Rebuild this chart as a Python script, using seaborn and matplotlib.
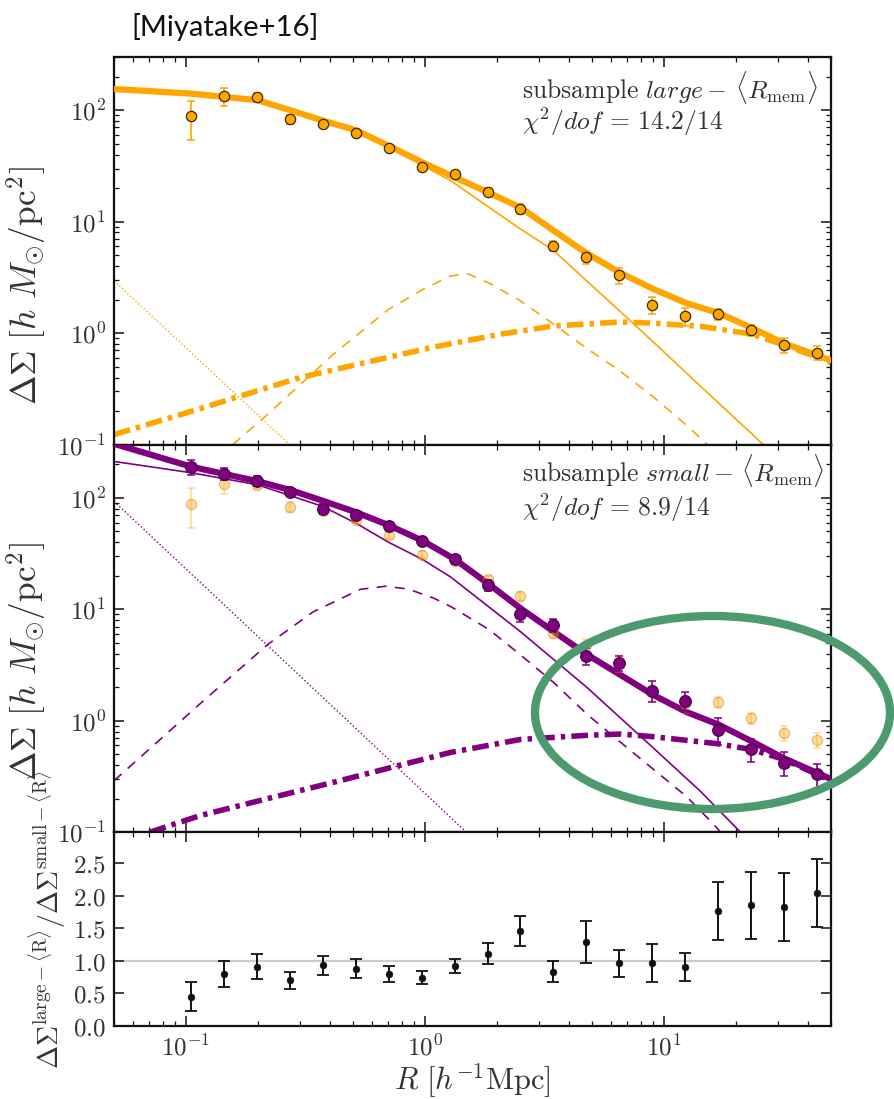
import numpy as np
import matplotlib
matplotlib.use("Agg")
import matplotlib.pyplot as plt
import seaborn as sns
from matplotlib.ticker import LogLocator, FuncFormatter, NullFormatter, FixedLocator
from matplotlib.patches import Ellipse

# ---- measured lensing profiles (R in h^-1 Mpc, Delta Sigma in h M_sun / pc^2) ----
R_bins = [0.105, 0.144, 0.198, 0.272, 0.373, 0.513, 0.705, 0.968, 1.33, 1.83,
          2.51, 3.44, 4.73, 6.50, 8.93, 12.3, 16.8, 23.1, 31.8, 43.6]

ds_large = [88, 134, 131, 83, 76, 63, 46, 31, 27, 18.6,
            13.1, 6.1, 4.8, 3.3, 1.8, 1.42, 1.48, 1.06, 0.78, 0.67]
ds_large_err = [34, 25, 12, 8, 5, 4, 3, 2, 1.6, 1.4,
                1.3, 0.6, 0.65, 0.55, 0.3, 0.25, 0.17, 0.12, 0.12, 0.1]

ds_small = [190, 164, 142, 113, 80, 70, 56, 41, 28, 16.4,
            9.0, 7.2, 3.8, 3.3, 1.86, 1.51, 0.83, 0.56, 0.42, 0.33]
ds_small_err = [30, 20, 15, 10, 8, 6, 4, 3, 2, 1.8,
                1.3, 1.0, 0.65, 0.5, 0.4, 0.3, 0.22, 0.13, 0.1, 0.08]

ratio = [0.45, 0.80, 0.91, 0.70, 0.93, 0.88, 0.80, 0.74, 0.92, 1.11,
         1.46, 0.83, 1.29, 0.96, 0.96, 0.91, 1.76, 1.85, 1.83, 2.04]
ratio_err = [0.22, 0.20, 0.19, 0.135, 0.15, 0.14, 0.125, 0.10, 0.11, 0.155,
             0.23, 0.16, 0.32, 0.21, 0.29, 0.215, 0.44, 0.51, 0.52, 0.52]

# ---- best-fit model components, large-<R_mem> subsample ----
R_tot_L = [0.05, 0.105, 0.199, 0.273, 0.372, 0.516, 0.703, 0.977, 1.28, 1.85,
           2.51, 3.46, 4.75, 6.53, 8.99, 12.4, 17.0, 23.4, 31.8, 50]
tot_L = [155, 141, 123, 100, 81, 66, 48, 34, 26, 18.2,
         13.4, 8.3, 5.2, 3.5, 2.5, 1.86, 1.51, 1.11, 0.81, 0.57]

R_1h_L = [0.05, 0.105, 0.199, 0.273, 0.372, 0.516, 0.703, 0.977, 1.28, 1.85,
          2.51, 3.46, 4.75, 6.53, 8.99, 12.4, 17.0, 23.4, 30.0]
onehalo_L = [155, 141, 123, 100, 81, 65, 47, 32, 23.4, 13.5,
             8.6, 5.5, 2.94, 1.58, 0.84, 0.44, 0.234, 0.124, 0.075]

R_off_L = [0.157, 0.219, 0.413, 0.703, 0.977, 1.28, 1.52, 1.85, 2.51, 3.46,
           4.75, 6.53, 8.99, 12.4, 16.0]
offcen_L = [0.1, 0.186, 0.645, 1.63, 2.46, 3.27, 3.39, 2.82, 1.95, 1.2,
            0.73, 0.46, 0.27, 0.15, 0.09]

R_2h_L = [0.05, 0.1145, 0.157, 0.301, 0.574, 1.087, 2.07, 3.46, 6.6, 8.99,
          14.3, 23.4, 31.8, 50]
twohalo_L = [0.123, 0.21, 0.26, 0.40, 0.55, 0.75, 0.98, 1.16, 1.26, 1.23,
             1.15, 0.98, 0.78, 0.55]

R_bar_L = [0.05, 0.28]
baryon_L = [2.95, 0.094]

# ---- best-fit model components, small-<R_mem> subsample ----
R_tot_S = [0.05, 0.105, 0.144, 0.199, 0.273, 0.372, 0.516, 0.703, 0.977, 1.33,
           1.85, 2.51, 3.46, 4.75, 6.53, 8.99, 12.4, 17.0, 23.4, 31.8, 50]
tot_S = [305, 190.5, 164, 141, 117.5, 94.4, 74.1, 56.9, 41.2, 28.2,
         16.8, 10.2, 6.3, 3.94, 2.6, 1.71, 1.2, 0.92, 0.65, 0.46, 0.30]

R_1h_S = [0.05, 0.105, 0.199, 0.372, 0.516, 0.703, 0.977, 1.28, 2.51, 4.75,
          8.99, 14.3, 21.4, 25]
onehalo_S = [212, 168, 131, 84, 59, 40, 28, 19.5, 6.3, 2.0,
             0.575, 0.23, 0.095, 0.065]

R_off_S = [0.05, 0.1145, 0.22, 0.341, 0.537, 0.683, 0.85, 1.087, 1.28, 1.85,
           2.51, 3.46, 4.75, 6.53, 8.99, 12.4, 16.0, 18.0]
offcen_S = [0.29, 1.42, 4.84, 9.5, 15.1, 16.1, 15.2, 12.6, 10.6, 6.6,
            3.9, 2.2, 1.15, 0.65, 0.37, 0.21, 0.12, 0.09]

R_2h_S = [0.0706, 0.1145, 0.219, 0.413, 0.789, 1.28, 2.51, 4.75, 6.6, 8.99,
          17.0, 23.4, 31.8, 50]
twohalo_S = [0.1, 0.141, 0.2, 0.28, 0.40, 0.52, 0.68, 0.74, 0.76, 0.72,
             0.62, 0.55, 0.45, 0.29]

R_bar_S = [0.05, 1.49]
baryon_S = [93, 0.1]

ORANGE = "#FFA500"
PURPLE = "#800080"
DASH = (0, (6, 5))
DASHDOT = (0, (3.0, 1.1, 0.8, 1.1))
TXT = "#333333"

sns.set_style("ticks")
plt.rcParams.update({
    "mathtext.fontset": "cm",
    "axes.linewidth": 1.6,
    "axes.edgecolor": "#111111",
    "xtick.direction": "in",
    "ytick.direction": "in",
    "xtick.top": True,
    "ytick.right": True,
    "xtick.major.size": 7,
    "ytick.major.size": 7,
    "xtick.minor.size": 3.5,
    "ytick.minor.size": 3.5,
    "xtick.major.width": 1.1,
    "ytick.major.width": 1.1,
    "xtick.minor.width": 0.9,
    "ytick.minor.width": 0.9,
    "xtick.color": "#111111",
    "ytick.color": "#111111",
})
plt.rcParams["font.family"] = ["DejaVu Sans"]

fig = plt.figure(figsize=(8.95, 10.99), dpi=100)
gs = fig.add_gridspec(3, 1, height_ratios=[2, 2, 1], left=0.1274, right=0.9285,
                      top=0.9481, bottom=0.0664, hspace=0)
ax_top = fig.add_subplot(gs[0])
ax_mid = fig.add_subplot(gs[1], sharex=ax_top)
ax_bot = fig.add_subplot(gs[2], sharex=ax_top)

for ax in (ax_top, ax_mid, ax_bot):
    ax.set_xscale("log")
for ax in (ax_top, ax_mid):
    ax.set_yscale("log")


def curve(ax, r, v, color, lw, ls="-", z=2):
    sns.lineplot(x=r, y=v, ax=ax, color=color, linewidth=lw, linestyle=ls,
                 estimator=None, sort=False, legend=False, zorder=z)


def points(ax, r, v, err, face, edge, size, ecolor, alpha=1.0, z=5):
    ax.errorbar(r, v, yerr=err, fmt="none", ecolor=ecolor, elinewidth=1.2,
                capsize=3, capthick=1.1, alpha=alpha, zorder=z - 1)
    sns.scatterplot(x=r, y=v, ax=ax, s=size, color=face, edgecolor=edge,
                    linewidth=0.9, alpha=alpha, legend=False, zorder=z)


# top panel: large-<R_mem>
curve(ax_top, R_bar_L, baryon_L, ORANGE, 1.0, ":")
curve(ax_top, R_off_L, offcen_L, ORANGE, 1.2, DASH)
curve(ax_top, R_2h_L, twohalo_L, ORANGE, 4.0, DASHDOT)
curve(ax_top, R_1h_L, onehalo_L, ORANGE, 1.2, "-")
curve(ax_top, R_tot_L, tot_L, ORANGE, 4.5, "-", z=3)
points(ax_top, R_bins, ds_large, ds_large_err, ORANGE, "#3b2a05", 55, ORANGE)

# middle panel: small-<R_mem>, with the large sample in the background
curve(ax_mid, R_bar_S, baryon_S, PURPLE, 1.0, ":")
curve(ax_mid, R_off_S, offcen_S, PURPLE, 1.2, DASH)
curve(ax_mid, R_2h_S, twohalo_S, PURPLE, 4.0, DASHDOT)
curve(ax_mid, R_1h_S, onehalo_S, PURPLE, 1.2, "-")
curve(ax_mid, R_tot_S, tot_S, PURPLE, 4.5, "-", z=3)
points(ax_mid, R_bins, ds_large, ds_large_err, ORANGE, "#b07a10", 55, ORANGE,
       alpha=0.4, z=4)
points(ax_mid, R_bins, ds_small, ds_small_err, PURPLE, "#4a004a", 70, PURPLE, z=6)

# bottom panel: ratio
ax_bot.axhline(1.0, color="#cccccc", lw=1.6, zorder=0)
ax_bot.errorbar(R_bins, ratio, yerr=ratio_err, fmt="none", ecolor="#111111",
                elinewidth=1.4, capsize=4.5, capthick=1.3, zorder=3)
sns.scatterplot(x=R_bins, y=ratio, ax=ax_bot, s=24, color="#111111",
                edgecolor="#111111", legend=False, zorder=4)

# axes ranges and ticks
ax_top.set_xlim(0.05, 50)
for ax in (ax_top, ax_mid):
    ax.set_ylim(0.1, 300)
    ax.yaxis.set_major_locator(LogLocator(base=10, numticks=10))
    ax.yaxis.set_minor_locator(LogLocator(base=10, subs=np.arange(2, 10), numticks=20))
    ax.yaxis.set_major_formatter(FuncFormatter(lambda v, p: r"$10^{%d}$" % round(np.log10(v))))
    ax.yaxis.set_minor_formatter(NullFormatter())
    ax.tick_params(axis="x", which="both", labelbottom=False)

ax_bot.xaxis.set_major_locator(LogLocator(base=10, numticks=10))
ax_bot.xaxis.set_minor_locator(LogLocator(base=10, subs=np.arange(2, 10), numticks=20))
ax_bot.xaxis.set_major_formatter(FuncFormatter(lambda v, p: r"$10^{%d}$" % round(np.log10(v))))
ax_bot.xaxis.set_minor_formatter(NullFormatter())
ax_bot.set_ylim(0, 2.97)
ax_bot.yaxis.set_major_locator(FixedLocator([0.0, 0.5, 1.0, 1.5, 2.0, 2.5]))
ax_bot.yaxis.set_major_formatter(FuncFormatter(lambda v, p: r"$%.1f$" % v))

for ax in (ax_top, ax_mid, ax_bot):
    ax.tick_params(axis="both", which="major", labelsize=18, labelcolor=TXT, pad=6)
    for s in ax.spines.values():
        s.set_visible(True)

# labels
ylab = r"$\Delta\Sigma\ [h\ M_{\odot}/{\rm pc}^2]$"
ax_top.set_ylabel(ylab, fontsize=25.5, color=TXT)
ax_mid.set_ylabel(ylab, fontsize=25.5, color=TXT)
ax_top.yaxis.set_label_coords(-0.092, 0.41)
ax_mid.yaxis.set_label_coords(-0.092, 0.44)
ax_bot.set_ylabel(r"$\Delta\Sigma^{\rm large-\langle R\rangle}/\Delta\Sigma^{\rm small-\langle R\rangle}$",
                  fontsize=20, color=TXT)
ax_bot.yaxis.set_label_coords(-0.064, 0.55)
ax_bot.set_xlabel(r"$R\ [h^{-1}{\rm Mpc}]$", fontsize=22, color=TXT, labelpad=1)

ax_top.text(0.569, 0.922, r"$\mathrm{subsample}\ large-\,\langle R_{\rm mem}\rangle$",
            transform=ax_top.transAxes, fontsize=18.5, color=TXT, va="center")
ax_top.text(0.569, 0.832, r"$\chi^2/dof\,=\,14.2/14$",
            transform=ax_top.transAxes, fontsize=18.5, color=TXT, va="center")
ax_mid.text(0.569, 0.933, r"$\mathrm{subsample}\ small-\,\langle R_{\rm mem}\rangle$",
            transform=ax_mid.transAxes, fontsize=18.5, color=TXT, va="center")
ax_mid.text(0.569, 0.838, r"$\chi^2/dof\,=\,8.9/14$",
            transform=ax_mid.transAxes, fontsize=18.5, color=TXT, va="center")

fig.text(225 / 895, 1 - 27 / 1099, "[Miyatake+16]", ha="center", va="center",
         fontsize=21, family=["Lato", "DejaVu Sans"], color="#111111")

fig.add_artist(Ellipse((712.5 / 895, 1 - 712.5 / 1099), width=355 / 895, height=193 / 1099,
                       transform=fig.transFigure, fill=False, edgecolor="#4C9A6E",
                       lw=6, zorder=10))

fig.savefig("out.png", dpi=100)
